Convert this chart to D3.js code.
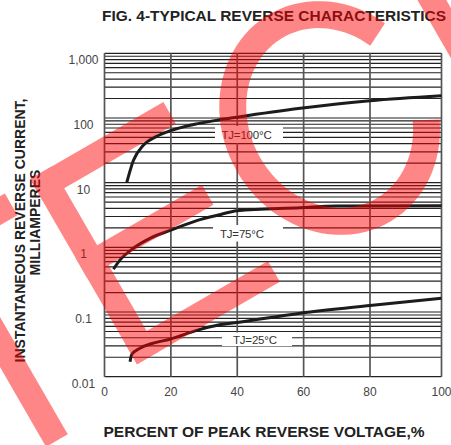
<!DOCTYPE html>
<html><head><meta charset="utf-8">
<script src="https://cdn.jsdelivr.net/npm/d3@7"></script>
<style>body{margin:0;background:#fff}svg{display:block}</style>
</head><body>
<svg id="chart" width="451" height="445"></svg>
<script>
// ---- data ----
const xTicks = [0, 20, 40, 60, 80, 100];
const yTicks = [0.01, 0.1, 1, 10, 100, 1000];
const yTickLabels = ["0.01", "0.1", "1", "10", "100", "1,000"];
const seriesNames = ["TJ=100°C", "TJ=75°C", "TJ=25°C"];

const x100 = [6.7, 8.7, 11.7, 15.7, 19.7, 27.8, 34.3, 40, 59, 80, 100];
const y100 = [10, 22, 38, 52, 63, 81, 93, 103, 141, 185, 221];

const x75 = [2.7, 4.7, 8.7, 13.7, 20.2, 27.8, 34.3, 40, 59, 70, 100];
const y75 = [0.46, 0.64, 0.97, 1.38, 1.86, 2.59, 3.16, 3.69, 4.1, 4.37, 4.4];

const x25 = [7.7, 8.2, 10.7, 14.7, 19.7, 27.8, 34.3, 40, 59, 80, 100];
const y25 = [0.017, 0.022, 0.0276, 0.033, 0.038, 0.052, 0.063, 0.069, 0.096, 0.126, 0.163];

// ---- layout ----
const svg = d3.select("#chart");
const x = d3.scaleLinear().domain([0, 80, 100]).range([104.5, 370, 441.5]);
const y = d3.scaleLog().domain([0.01, 1000]).range([376.7, 53.3]);
const FONT = "'Liberation Sans', Arial, Helvetica, sans-serif";

// title
svg.append("text").attr("x", 102).attr("y", 20.5)
  .attr("font-family", FONT).attr("font-size", 15).attr("font-weight", "bold")
  .attr("fill", "#222").attr("textLength", 344).attr("lengthAdjust", "spacingAndGlyphs")
  .text("FIG. 4-TYPICAL REVERSE CHARACTERISTICS");

// grid: horizontal minor log lines
const hVals = [];
for (let e = -2; e < 3; e++) for (let k = 1; k <= 9; k++) hVals.push(k * Math.pow(10, e));
hVals.push(1000);
const grid = svg.append("g");
grid.selectAll("line.h").data(hVals).enter().append("line")
  .attr("x1", x(0)).attr("x2", x(100))
  .attr("y1", d => y(d)).attr("y2", d => y(d))
  .attr("stroke", "#222").attr("stroke-width", 1.2);
grid.selectAll("line.v").data(xTicks).enter().append("line")
  .attr("x1", d => x(d)).attr("x2", d => x(d))
  .attr("y1", y(1000)).attr("y2", y(0.01))
  .attr("stroke", "#555").attr("stroke-width", 1.7);

// label boxes (white) hiding grid
const labelBoxes = [
  {x0: 215, x1: 283, y0: 126, y1: 143, tx: 221.5, ty: 139},
  {x0: 213, x1: 283, y0: 225, y1: 241.5, tx: 220, ty: 237.5},
  {x0: 222, x1: 292, y0: 332.5, y1: 346, tx: 233, ty: 343.5}
];
labelBoxes.forEach((b, i) => {
  svg.append("rect").attr("x", b.x0).attr("y", b.y0)
    .attr("width", b.x1 - b.x0).attr("height", b.y1 - b.y0).attr("fill", "#fff");
  svg.append("text").attr("x", b.tx).attr("y", b.ty)
    .attr("font-family", FONT).attr("font-size", 11.5).attr("fill", "#333")
    .attr("letter-spacing", -0.2)
    .text(seriesNames[i]);
});

// curves
const line = d3.line().x(d => x(d[0])).y(d => y(d[1])).curve(d3.curveMonotoneX);
[[x100, y100], [x75, y75], [x25, y25]].forEach(([xs, ys]) => {
  svg.append("path").datum(xs.map((v, i) => [v, ys[i]]))
    .attr("d", line).attr("fill", "none")
    .attr("stroke", "#1c1c1c").attr("stroke-width", 3).attr("stroke-linecap", "butt");
});

// y tick labels
svg.selectAll("text.yt").data(yTicks).enter().append("text")
  .attr("x", 83.5).attr("y", d => y(d) + 11)
  .attr("text-anchor", "middle")
  .attr("font-family", FONT).attr("font-size", 12).attr("fill", "#444")
  .text((d, i) => yTickLabels[i]);

// x tick labels
svg.selectAll("text.xt").data(xTicks).enter().append("text")
  .attr("x", d => x(d)).attr("y", 396)
  .attr("text-anchor", "middle")
  .attr("font-family", FONT).attr("font-size", 12).attr("fill", "#444")
  .text(d => d);

// axis titles
svg.append("text").attr("x", 103.5).attr("y", 437)
  .attr("font-family", FONT).attr("font-size", 15).attr("font-weight", "bold")
  .attr("fill", "#222").attr("textLength", 321).attr("lengthAdjust", "spacingAndGlyphs")
  .text("PERCENT OF PEAK REVERSE VOLTAGE,%");
svg.append("text").attr("transform", "translate(25,230.5) rotate(-90)")
  .attr("text-anchor", "middle")
  .attr("font-family", FONT).attr("font-size", 14).attr("font-weight", "bold").attr("fill", "#222")
  .text("INSTANTANEOUS REVERSE CURRENT,");
svg.append("text").attr("transform", "translate(40,222.5) rotate(-90)")
  .attr("text-anchor", "middle")
  .attr("font-family", FONT).attr("font-size", 14).attr("font-weight", "bold").attr("fill", "#222")
  .text("MILLIAMPERES");

// ---- watermark (decorative overlay) ----
const wm = svg.append("g").attr("opacity", 0.47)
  .attr("transform", "translate(30,179) rotate(-30)").attr("fill", "#ff0000");
// T
wm.append("rect").attr("x", -170).attr("y", 0).attr("width", 141).attr("height", 25);
wm.append("rect").attr("x", -120).attr("y", 0).attr("width", 25).attr("height", 240);
// E
wm.append("rect").attr("x", 0).attr("y", 0).attr("width", 25).attr("height", 214);
wm.append("rect").attr("x", 0).attr("y", 0).attr("width", 154).attr("height", 25);
wm.append("rect").attr("x", 0).attr("y", 91).attr("width", 146).attr("height", 23);
wm.append("rect").attr("x", 0).attr("y", 190).attr("width", 165).attr("height", 24);
// C
(function () {
  const cx = 290, cy = 97, ro = [107, 120], ri = [80, 93];
  const a0 = 28, a1 = 333, n = 80;
  const pts = [];
  for (let i = 0; i <= n; i++) {
    const t = (a0 + (a1 - a0) * i / n) * Math.PI / 180;
    pts.push([cx + ro[0] * Math.cos(t), cy + ro[1] * Math.sin(t)]);
  }
  for (let i = n; i >= 0; i--) {
    const t = (a0 + (a1 - a0) * i / n) * Math.PI / 180;
    pts.push([cx + ri[0] * Math.cos(t), cy + ri[1] * Math.sin(t)]);
  }
  wm.append("path").attr("d", "M" + pts.map(p => p.join(",")).join("L") + "Z");
})();
// next letter stem
wm.append("rect").attr("x", 425).attr("y", -60).attr("width", 25).attr("height", 280);
</script>
</body></html>
